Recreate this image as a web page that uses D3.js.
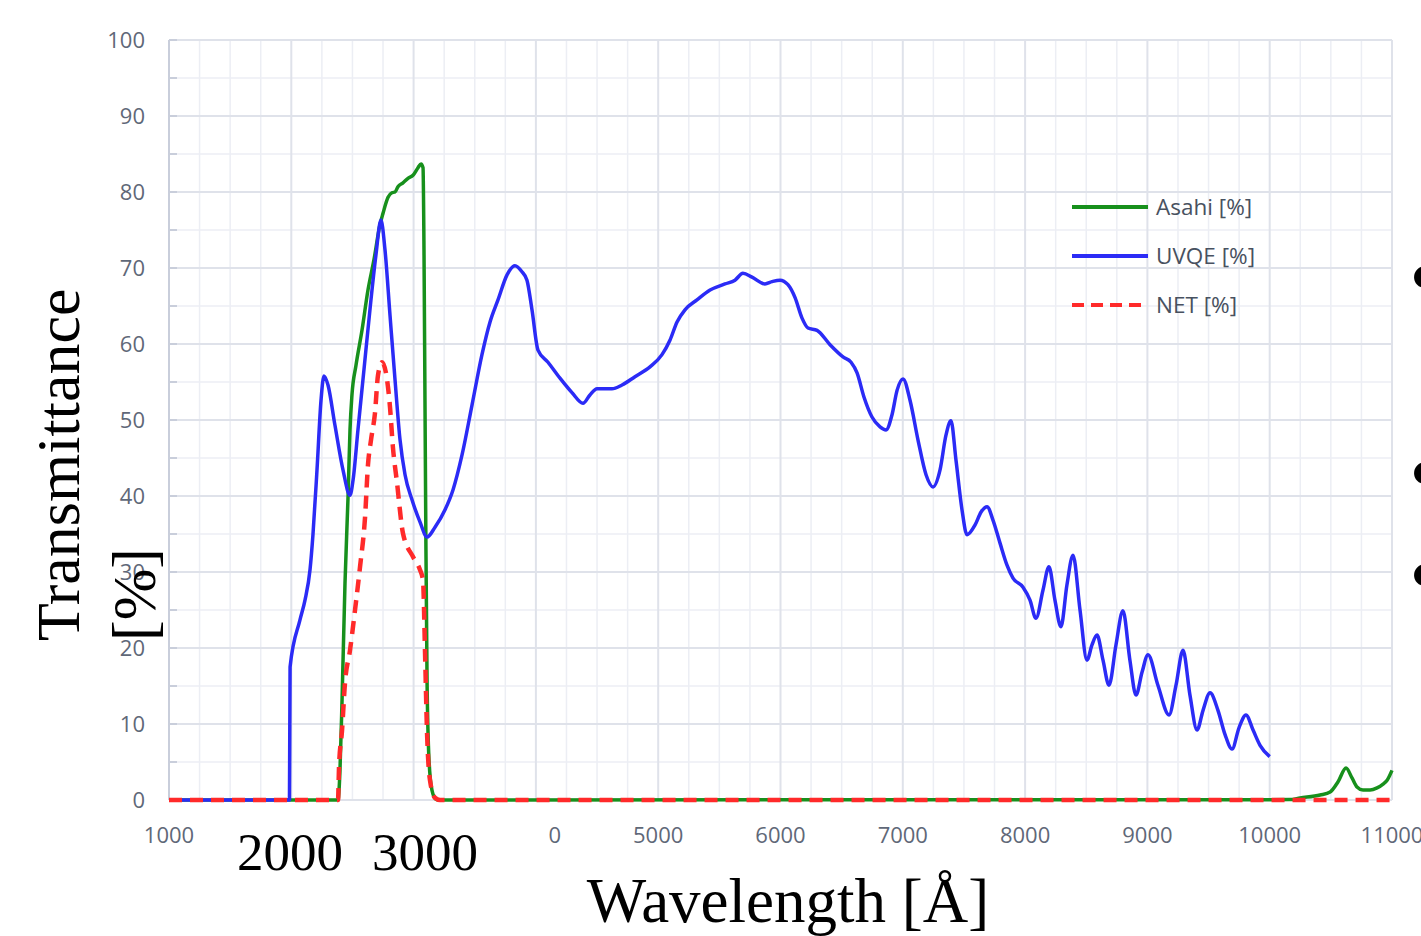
<!DOCTYPE html>
<html>
<head>
<meta charset="utf-8">
<script src="https://cdn.jsdelivr.net/npm/d3@7"></script>
<style>
  body { margin: 0; background: #fff; }
  svg { display: block; }
  .tick-label { font-family: "Open Sans", sans-serif; font-size: 22px; fill: #5f6878; }
  .legend-label { font-family: "Open Sans", sans-serif; font-size: 22.5px; fill: #485160; }
  .serif { font-family: "Liberation Serif", "Times New Roman", serif; fill: #000; }
</style>
</head>
<body>
<div id="chart"></div>
<script>
// ---- data (wavelength in Angstrom, value in %) ----
const xTicks = [1000, 2000, 3000, 4000, 5000, 6000, 7000, 8000, 9000, 10000, 11000];
const yTicks = [0, 10, 20, 30, 40, 50, 60, 70, 80, 90, 100];
// 2000 and 3000 were pasted over on the slide, so their own labels are not shown
const xTickHidden = [2000, 3000];
const pastedLabels = [2000, 3000];

const uvqeWave = [1000, 1985, 1990, 2071, 2112, 2153, 2177, 2210, 2243, 2267, 2300, 2357, 2423, 2480,
  2505, 2545, 2594, 2643, 2692, 2733, 2766, 2807, 2848, 2889, 2930, 2987, 3052, 3110, 3175, 3257,
  3322, 3396, 3478, 3559, 3625, 3690, 3764, 3829, 3886, 3927, 3968, 4017, 4099, 4197, 4295, 4385,
  4442, 4500, 4622, 4704, 4810, 4933, 5031, 5096, 5154, 5219, 5317, 5424, 5546, 5628, 5693, 5767,
  5873, 5930, 5996, 6061, 6119, 6176, 6225, 6299, 6405, 6511, 6577, 6626, 6683, 6748, 6814, 6863,
  6912, 6953, 7002, 7059, 7124, 7190, 7247, 7304, 7353, 7394, 7435, 7484, 7525, 7591, 7640, 7689,
  7738, 7795, 7852, 7901, 7983, 8040, 8089, 8146, 8195, 8244, 8293, 8342, 8392, 8449, 8506, 8547,
  8588, 8637, 8686, 8743, 8800, 8857, 8907, 8956, 9005, 9086, 9177, 9234, 9291, 9348, 9406, 9455,
  9512, 9577, 9635, 9692, 9749, 9806, 9864, 9921, 10000];
const uvqeValue = [0, 0, 17.5, 23.7, 26.3, 30.3, 34.9, 43.4, 52.6, 55.8, 54.6, 49.3, 43.4, 40.1,
  42.1, 48.7, 56.6, 64.5, 71.7, 76.3, 72.4, 63.8, 55.3, 47.4, 42.8, 39.5, 36.6, 34.6, 35.9, 38.2,
  40.8, 45.4, 52, 58.6, 62.9, 65.8, 69.1, 70.3, 69.5, 68.4, 64.5, 59.2, 57.6, 55.5, 53.6, 52.2,
  53.3, 54.1, 54.1, 54.6, 55.7, 57, 58.6, 60.5, 62.9, 64.5, 65.8, 67.1, 67.9, 68.4, 69.3, 68.8,
  67.9, 68.2, 68.4, 67.8, 66.1, 63.4, 62.1, 61.8, 59.9, 58.3, 57.6, 56.2, 53, 50.4, 49.1, 48.7,
  50.7, 53.9, 55.4, 52.6, 47.4, 42.8, 41.2, 43.4, 48, 49.9, 44.7, 38.2, 34.9, 36.2, 37.9, 38.6,
  36.8, 33.8, 30.9, 29.2, 28, 26.3, 23.9, 27.6, 30.7, 26.3, 22.8, 28.3, 32.2, 25, 18.4, 20.4,
  21.7, 18.4, 15.1, 20.4, 24.9, 18.4, 13.8, 16.8, 19.1, 15.1, 11.2, 15.1, 19.7, 13.8, 9.2, 11.8,
  14.1, 11.8, 8.6, 6.7, 9.5, 11.2, 9.2, 7.2, 5.7];

const asahiWave = [1000, 2382, 2398, 2415, 2439, 2464, 2480, 2496, 2529, 2578, 2627, 2676, 2725,
  2750, 2791, 2823, 2848, 2872, 2913, 2954, 2995, 3036, 3061, 3077, 3085, 3093, 3101, 3110, 3126,
  3150, 3183, 3216, 10166, 10248, 10412, 10494, 10559, 10624, 10673, 10714, 10763, 10821, 10878,
  10927, 10960, 11000];
const asahiValue = [0, 0, 3.9, 13.2, 28.5, 39.9, 48.7, 53.3, 57.2, 61.8, 67.1, 71.1, 75.7,
  77.2, 79.3, 79.9, 80, 80.7, 81.2, 81.8, 82.2, 83.2, 83.7, 83.2, 72.4, 52.6, 32.9, 15.8, 5.3,
  1.3, 0.1, 0, 0.05, 0.26, 0.66, 1.05, 2.4, 4.2, 2.9, 1.7, 1.3, 1.3, 1.6,
  2.1, 2.6, 3.9];

const netWave = [1000, 2382, 2390, 2415, 2439, 2480, 2521, 2562, 2603, 2627, 2652, 2684, 2709,
  2742, 2783, 2807, 2831, 2864, 2913, 2995, 3052, 3077, 3093, 3110, 3134, 3175, 3216, 11000];
const netValue = [0, 0, 4.3, 9.2, 15.4, 19.7, 25, 30.7, 37.2, 44.1, 47.4, 50.9, 55.9,
  57.6, 55.3, 51.7, 46.4, 41.8, 35.1, 32, 30.3, 28.9, 19.7, 8.8, 2.6, 0.3, 0, 0];

const seriesNames = ['Asahi [%]', 'UVQE [%]', 'NET [%]'];
const seriesColors = ['#17901c', '#2b2bf6', '#ff2a2a'];

const series = [
  { name: seriesNames[0], color: seriesColors[0], dash: null, width: 3.5, wave: asahiWave, value: asahiValue },
  { name: seriesNames[1], color: seriesColors[1], dash: null, width: 3.5, wave: uvqeWave, value: uvqeValue },
  { name: seriesNames[2], color: seriesColors[2], dash: '13,8', width: 4.5, wave: netWave, value: netValue }
];

const width = 1421, height = 936;
const margin = { top: 40, right: 29, bottom: 136, left: 169 };
const innerW = width - margin.left - margin.right;
const innerH = height - margin.top - margin.bottom;

const svg = d3.select('#chart').append('svg')
    .attr('width', width)
    .attr('height', height);

const chart = svg.append('g')
    .attr('transform', `translate(${margin.left},${margin.top})`);

const xScale = d3.scaleLinear().domain([1000, 11000]).range([0, innerW]);
const yScale = d3.scaleLinear().domain([0, 100]).range([innerH, 0]);

// minor grid (every 250 Å / 5 %)
chart.append('g')
  .selectAll('line')
    .data(d3.range(1000, 11001, 250).filter(d => d % 1000 !== 0))
  .join('line')
    .attr('x1', d => xScale(d)).attr('x2', d => xScale(d))
    .attr('y1', 0).attr('y2', innerH)
    .attr('stroke', '#eceef4').attr('stroke-width', 1.5);

chart.append('g')
  .selectAll('line')
    .data(d3.range(5, 100, 10))
  .join('line')
    .attr('x1', 0).attr('x2', innerW)
    .attr('y1', d => yScale(d)).attr('y2', d => yScale(d))
    .attr('stroke', '#eceef4').attr('stroke-width', 1.5);

// major grid
chart.append('g')
  .selectAll('line')
    .data(xTicks)
  .join('line')
    .attr('x1', d => xScale(d)).attr('x2', d => xScale(d))
    .attr('y1', 0).attr('y2', innerH)
    .attr('stroke', '#dfe2ea').attr('stroke-width', 2);

chart.append('g')
  .selectAll('line')
    .data(yTicks)
  .join('line')
    .attr('x1', 0).attr('x2', innerW)
    .attr('y1', d => yScale(d)).attr('y2', d => yScale(d))
    .attr('stroke', '#dfe2ea').attr('stroke-width', 2);

// left axis line with short inner ticks
chart.append('line')
    .attr('x1', 0).attr('x2', 0).attr('y1', 0).attr('y2', innerH)
    .attr('stroke', '#c9cedb').attr('stroke-width', 2);
chart.append('g')
  .selectAll('line')
    .data(d3.range(0, 101, 5))
  .join('line')
    .attr('x1', 0).attr('x2', 8)
    .attr('y1', d => yScale(d)).attr('y2', d => yScale(d))
    .attr('stroke', '#c9cedb').attr('stroke-width', 2);

// tick labels
chart.append('g')
  .selectAll('text')
    .data(yTicks)
  .join('text')
    .attr('class', 'tick-label')
    .attr('x', -24)
    .attr('y', d => yScale(d))
    .attr('dy', '0.35em')
    .attr('text-anchor', 'end')
    .text(d => d);

chart.append('g')
  .selectAll('text')
    .data(xTicks.filter(d => !xTickHidden.includes(d)))
  .join('text')
    .attr('class', 'tick-label')
    .attr('x', d => xScale(d))
    .attr('y', innerH + 35)
    .attr('dy', '0.35em')
    .attr('text-anchor', 'middle')
    .text(d => d);

// lines: green first, blue on top of it, red dashes on top
const line = d3.line()
    .curve(d3.curveMonotoneX)
    .x(d => xScale(d[0]))
    .y(d => yScale(d[1]));

chart.append('g')
  .selectAll('path')
    .data(series)
  .join('path')
    .attr('d', s => line(d3.zip(s.wave, s.value)))
    .attr('fill', 'none')
    .attr('stroke', s => s.color)
    .attr('stroke-width', s => s.width)
    .attr('stroke-dasharray', s => s.dash)
    .attr('stroke-linejoin', 'round');

// legend
const legend = chart.append('g')
    .attr('transform', `translate(${1072 - margin.left},${207 - margin.top})`);

const legendItem = legend.selectAll('g')
    .data(series)
  .join('g')
    .attr('transform', (d, i) => `translate(0,${i * 49})`);

legendItem.append('line')
    .attr('x1', 0).attr('x2', 76)
    .attr('stroke', d => d.color)
    .attr('stroke-width', 4)
    .attr('stroke-dasharray', d => d.dash ? '12,7' : null);

legendItem.append('text')
    .attr('class', 'legend-label')
    .attr('x', 84)
    .attr('dy', '0.35em')
    .text(d => d.name);

// white patch pasted over the first digits of the 4000 label
svg.append('rect')
    .attr('x', 500).attr('y', 816)
    .attr('width', 49).attr('height', 36)
    .attr('fill', '#fff');

svg.append('g')
  .selectAll('text')
    .data(pastedLabels)
  .join('text')
    .attr('class', 'serif')
    .attr('x', (d, i) => i === 0 ? 290 : 425)
    .attr('y', 870)
    .attr('text-anchor', 'middle')
    .attr('font-size', 53)
    .text(d => d);

svg.append('text')
    .attr('class', 'serif')
    .attr('x', 788)
    .attr('y', 922)
    .attr('text-anchor', 'middle')
    .attr('font-size', 63)
    .text('Wavelength [Å]');

const yTitle = svg.append('text')
    .attr('class', 'serif')
    .attr('font-size', 62)
    .attr('transform', 'translate(79,641) rotate(-90)');
yTitle.append('tspan').attr('x', 0).attr('y', 0).text('Transmittance');
yTitle.append('tspan').attr('x', 0).attr('y', 76).text('[%]');

// bullets of the slide text cut off at the right
svg.append('g')
  .selectAll('text')
    .data([277, 473, 575])
  .join('text')
    .attr('class', 'serif')
    .attr('x', 1409)
    .attr('y', d => d + 30)
    .attr('font-size', 90)
    .text('•');
</script>
</body>
</html>
